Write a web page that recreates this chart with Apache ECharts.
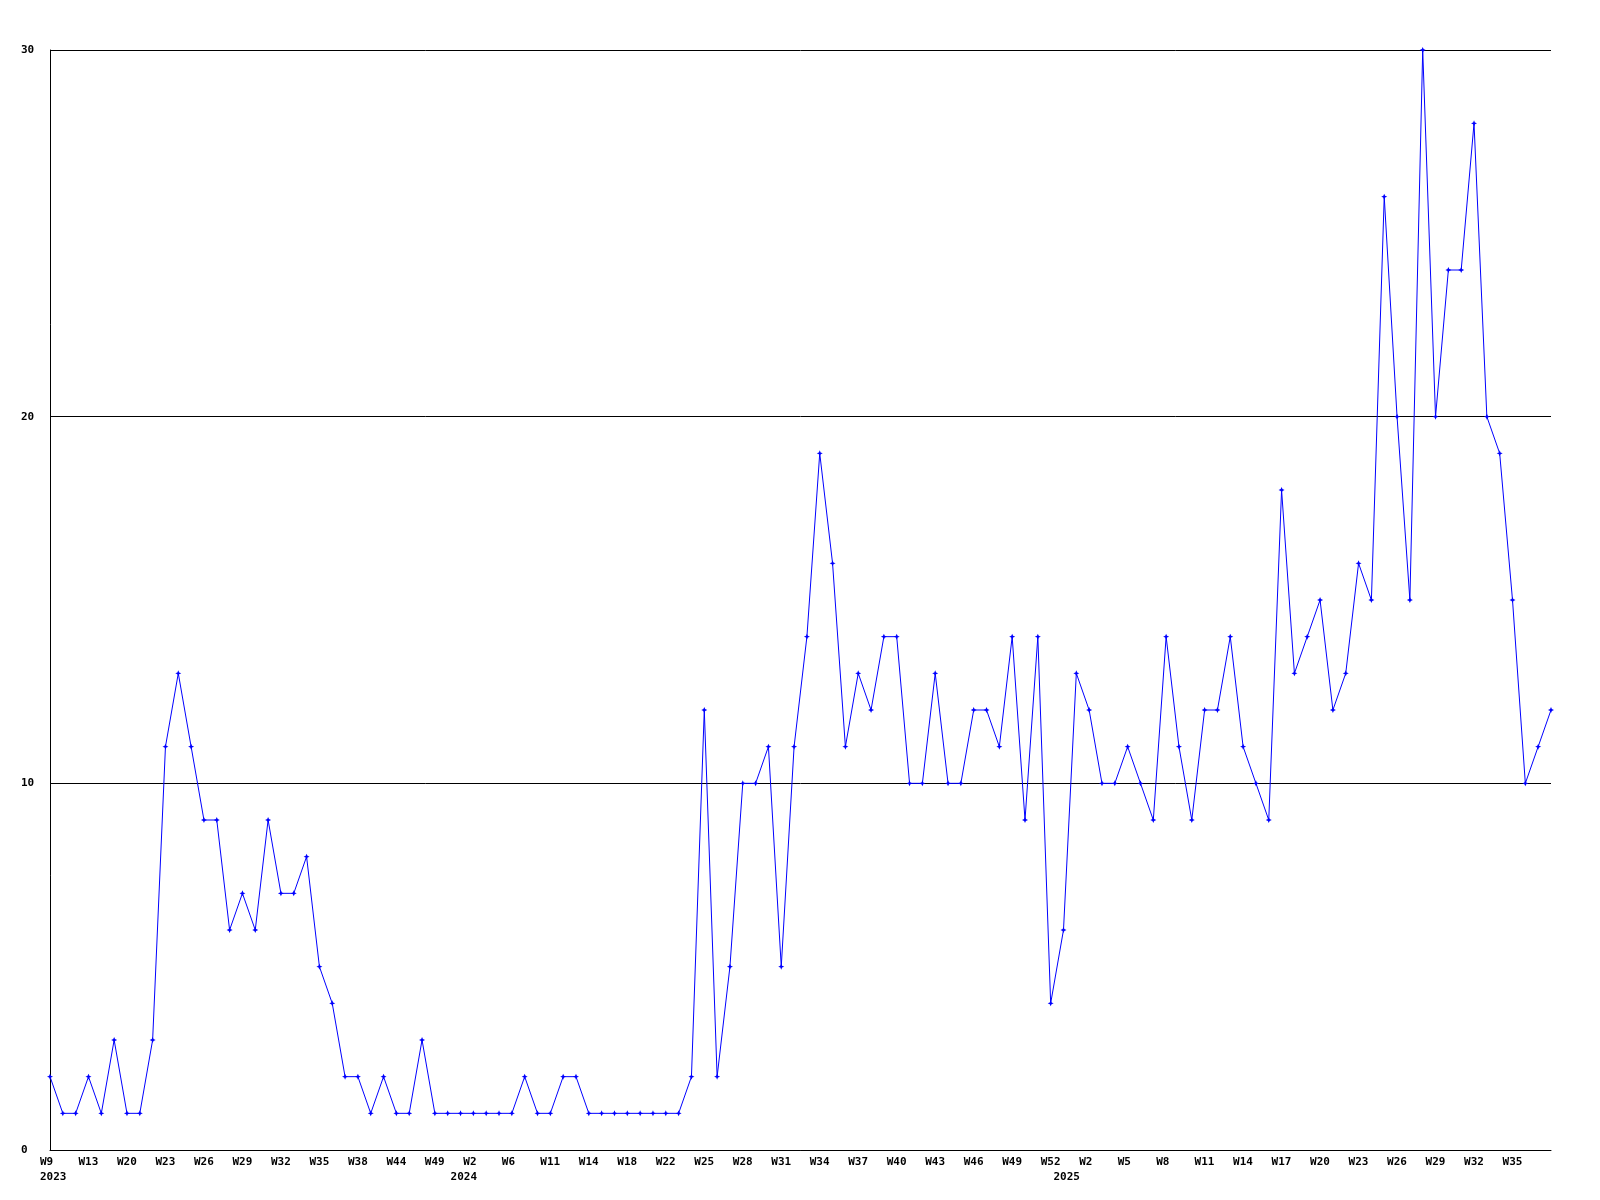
<!DOCTYPE html>
<html>
<head>
<meta charset="utf-8">
<script src="https://cdn.jsdelivr.net/npm/echarts@6/dist/echarts.min.js"></script>
<style>html,body{margin:0;padding:0;background:#fff;}#c{width:1600px;height:1200px;}</style>
</head>
<body>
<div id="c"></div>
<script>
const weeks2023 = ['W9','W10','W12','W13','W16','W18','W20','W21','W22','W23','W24','W25','W26','W27','W28','W29','W30','W31','W32','W33','W34','W35','W36','W37','W38','W40','W42','W44','W46','W47','W49','W51'];
const weeks2024 = ['W1','W2','W4','W5','W6','W8','W10','W11','W12','W13','W14','W16','W17','W18','W20','W21','W22','W23','W24','W25','W26','W27','W28','W29','W30','W31','W32','W33','W34','W35','W36','W37','W38','W39','W40','W41','W42','W43','W44','W45','W46','W47','W48','W49','W50','W51','W52'];
const weeks2025 = ['W0','W1','W2','W3','W4','W5','W6','W7','W8','W9','W10','W11','W12','W13','W14','W15','W16','W17','W18','W19','W20','W21','W22','W23','W24','W25','W26','W27','W28','W29','W30','W31','W32','W33','W34','W35','W36','W37','W38'];
const values = [
  2,1,1,2,1,3,1,1,3,11,
  13,11,9,9,6,7,6,9,7,7,
  8,5,4,2,2,1,2,1,1,3,
  1,1,1,1,1,1,1,2,1,1,
  2,2,1,1,1,1,1,1,1,1,
  2,12,2,5,10,10,11,5,11,14,
  19,16,11,13,12,14,14,10,10,13,
  10,10,12,12,11,14,9,14,4,6,
  13,12,10,10,11,10,9,14,11,9,
  12,12,14,11,10,9,18,13,14,15,
  12,13,16,15,26,20,15,30,20,24,
  24,28,20,19,15,10,11,12
];
const yTicks = [0, 10, 20, 30];

const categories = []
  .concat(weeks2023.map(w => '2023-' + w))
  .concat(weeks2024.map(w => '2024-' + w))
  .concat(weeks2025.map(w => '2025-' + w));

function yearStart(i) {
  if (i === 0) return true;
  return categories[i].split('-')[0] !== categories[i - 1].split('-')[0];
}
function weekShown(i) {
  return i % 3 === 0 && i < categories.length - 1;
}

const chart = echarts.init(document.getElementById('c'), null, {renderer: 'canvas'});
const font = 'DejaVu Sans Mono';
chart.setOption({
  backgroundColor: '#ffffff',
  animation: false,
  grid: {left: 50, right: 49, top: 50, bottom: 50, containLabel: false},
  xAxis: {
    type: 'category',
    data: categories,
    boundaryGap: false,
    axisLine: {show: true, lineStyle: {color: '#000', width: 1}},
    axisTick: {show: false},
    splitLine: {show: false},
    axisLabel: {
      interval: function (index) { return weekShown(index) || yearStart(index); },
      margin: 5,
      formatter: function (value, index) {
        const parts = value.split('-');
        const top = weekShown(index) ? parts[1] : '\u00a0';
        const bottom = yearStart(index) ? parts[0] : '\u00a0';
        return '{w|' + top + '}\n{w|' + bottom + '}';
      },
      rich: {
        w: {width: 20, align: 'left', fontFamily: font, fontWeight: 'bold', fontSize: 11, lineHeight: 15, color: '#000'}
      }
    }
  },
  yAxis: {
    type: 'value',
    min: yTicks[0],
    max: yTicks[yTicks.length - 1],
    interval: 10,
    axisLine: {show: true, lineStyle: {color: '#000', width: 1}},
    axisTick: {show: false},
    splitLine: {show: true, lineStyle: {color: '#000', width: 1}},
    axisLabel: {
      margin: 29,
      align: 'left',
      fontFamily: font,
      fontWeight: 'bold',
      fontSize: 11,
      color: '#000'
    }
  },
  series: [{
    type: 'line',
    data: values,
    showSymbol: true,
    showAllSymbol: true,
    symbol: 'path://M0,-2L0.6,-0.6L2,0L0.6,0.6L0,2L-0.6,0.6L-2,0L-0.6,-0.6Z',
    symbolSize: 6,
    itemStyle: {color: '#0000ff'},
    lineStyle: {color: '#0000ff', width: 1},
    emphasis: {disabled: true}
  }]
});
</script>
</body>
</html>
